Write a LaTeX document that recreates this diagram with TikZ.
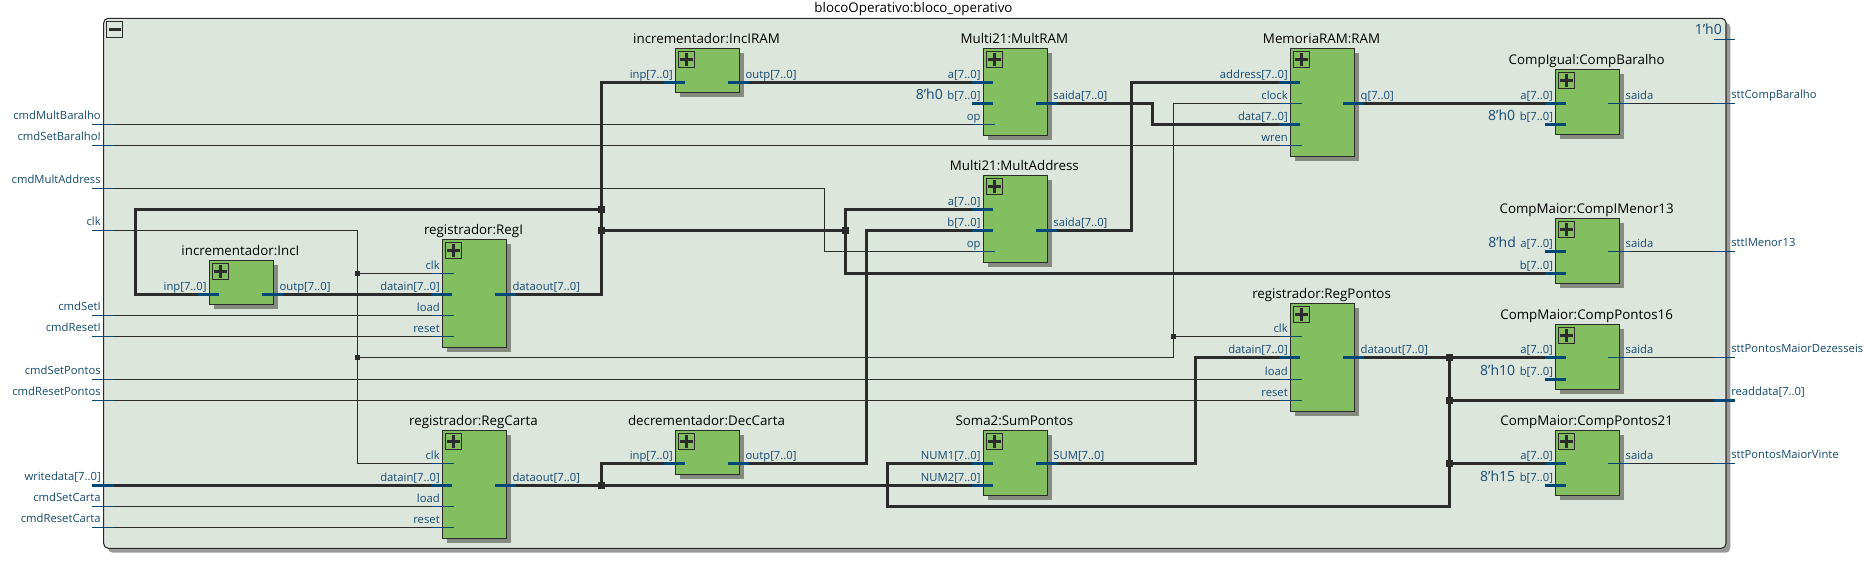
\documentclass[tikz,border=0pt]{standalone}
\usepackage{fontspec}
\setmainfont{Open Sans}
\usetikzlibrary{backgrounds}
\definecolor{framefill}{RGB}{221,230,221}
\definecolor{frameshadow}{RGB}{153,153,153}
\definecolor{blockfill}{RGB}{131,191,96}
\definecolor{blockshadow}{RGB}{134,139,127}
\definecolor{wiredark}{RGB}{43,43,43}
\definecolor{pinblue}{RGB}{0,72,118}
\definecolor{lblblue}{RGB}{22,74,112}
\pgfdeclarelayer{top}
\pgfsetlayers{main,top}
\tikzset{
  x=0.75pt,y=-0.75pt,
  bus/.style={draw=wiredark,line width=2.25pt},
  sig/.style={draw=wiredark,line width=0.75pt},
  stubbus/.style={draw=pinblue,line width=2.25pt},
  stubsig/.style={draw=pinblue,line width=0.75pt},
  blockbox/.style={draw=wiredark,fill=blockfill,line width=0.8pt,inner sep=0,outer sep=0,anchor=north west},
  plusbox/.style={draw=wiredark,fill=blockfill,line width=0.8pt,inner sep=0,outer sep=0,minimum width=12pt,minimum height=12pt},
  titletext/.style={anchor=base,inner sep=0,text=black,font=\fontsize{10pt}{12pt}\selectfont},
  pintext/.style={inner sep=0,text=lblblue,font=\fontsize{8.45pt}{10pt}\selectfont},
  consttext/.style={inner sep=0,anchor=base east,text=lblblue,font=\fontsize{10.5pt}{12pt}\selectfont},
  jbus/.style={fill=wiredark,inner sep=0,outer sep=0,minimum size=5.2pt},
  jsig/.style={fill=wiredark,inner sep=0,outer sep=0,minimum size=3.6pt},
}
% block: name, x0, y0, x1, y1, title
\newcommand\blk[6]{%
  \fill[blockshadow] (#2+4.4,#3+4.4) rectangle (#4+4.4,#5+4.4);
  \node[blockbox,minimum width={(#4-#2)*0.75pt},minimum height={(#5-#3)*0.75pt}] (#1) at (#2,#3) {};
  \node[plusbox] (#1P) at (#2+11.3,#3+11.5) {};
  \draw[draw=wiredark,line width=2.2pt] (#1P.center) ++(-6.5,0) -- ++(13,0);
  \draw[draw=wiredark,line width=2.2pt] (#1P.center) ++(0,-6.5) -- ++(0,13);
  \node[titletext] (#1T) at ({(#2+#4)/2-1},#3-5) {#6};
}
% pins: name, block edge x, y, label
\newcommand\busin[4]{%
  \coordinate (#1) at (#2+10,#3);
  \coordinate (#1S) at (#2-11,#3);
  \begin{pgfonlayer}{top}\draw[stubbus] (#1S) -- (#1);\end{pgfonlayer}
  \node[pintext,anchor=base east] (#1L) at (#2-2.4,#3-3.8) {#4};
}
\newcommand\sigin[4]{%
  \coordinate (#1) at (#2+11.5,#3);
  \coordinate (#1S) at (#2-10.5,#3);
  \begin{pgfonlayer}{top}\draw[stubsig] (#1S) -- (#1);\end{pgfonlayer}
  \node[pintext,anchor=base east] (#1L) at (#2-2.4,#3-3.8) {#4};
}
\newcommand\busout[4]{%
  \coordinate (#1) at (#2-11.6,#3);
  \coordinate (#1S) at (#2+9,#3);
  \begin{pgfonlayer}{top}\draw[stubbus] (#1) -- (#1S);\end{pgfonlayer}
  \node[pintext,anchor=base west] (#1L) at (#2+5.7,#3-3.8) {#4};
}
\newcommand\sigout[4]{%
  \coordinate (#1) at (#2-11.7,#3);
  \coordinate (#1S) at (#2+10.5,#3);
  \begin{pgfonlayer}{top}\draw[stubsig] (#1) -- (#1S);\end{pgfonlayer}
  \node[pintext,anchor=base west] (#1L) at (#2+5.7,#3-3.8) {#4};
}
% frame terminals: name, y, label
\newcommand\extin[4]{%
  \coordinate (#1) at (92.4,#2);
  \coordinate (#1S) at (113.7,#2);
  \begin{pgfonlayer}{top}\draw[#4] (#1) -- (#1S);\end{pgfonlayer}
  \node[pintext,anchor=base east] (#1L) at (101,#2-5) {#3};
}
\newcommand\extout[4]{%
  \coordinate (#1) at (1735.4,#2);
  \coordinate (#1S) at (1714,#2);
  \begin{pgfonlayer}{top}\draw[#4] (#1S) -- (#1);\end{pgfonlayer}
  \node[pintext,anchor=base west] (#1L) at (1731,#2-5) {#3};
}
\begin{document}
\begin{tikzpicture}
\useasboundingbox (0,0) rectangle (1873,561);
% frame
\fill[frameshadow,rounded corners=3.5pt] (108,22.7) rectangle (1730.3,552.7);
\node[inner sep=0,outer sep=0,minimum width=0,minimum height=0] (frameTL) at (103.7,18.3) {};
\draw[draw=wiredark,fill=framefill,line width=0.8pt,rounded corners=3.5pt] (frameTL.center) rectangle (1726,548.3);
\node[draw=wiredark,line width=0.6pt,inner sep=0,outer sep=0,minimum width=12pt,minimum height=11.8pt] (minusbox) at (114.5,29.5) {};
\draw[draw=wiredark,line width=2.2pt] (minusbox.center) ++(-6,0) -- ++(12,0);
\node[titletext] (mainT) at (913.5,12.5) {blocoOperativo:bloco\_operativo};
% blocks
\blk{IncI}{209.3}{260.3}{273.6}{304.3}{incrementador:IncI}
\blk{RegI}{442.4}{239.3}{506.6}{347.3}{registrador:RegI}
\blk{RegCarta}{442.4}{430.3}{506.6}{538.3}{registrador:RegCarta}
\blk{IncIRAM}{675.4}{48.3}{739.7}{92.3}{incrementador:IncIRAM}
\blk{DecCarta}{675.4}{430.3}{739.7}{474.3}{decrementador:DecCarta}
\blk{MultRAM}{983.2}{48.3}{1047.5}{135.3}{Multi21:MultRAM}
\blk{MultAddr}{983.2}{175.3}{1047.5}{262.3}{Multi21:MultAddress}
\blk{SumP}{983.2}{430.3}{1047.5}{495.3}{Soma2:SumPontos}
\blk{RAM}{1290.4}{48.3}{1354.7}{156.3}{MemoriaRAM:RAM}
\blk{RegP}{1290.4}{303.3}{1354.7}{411.3}{registrador:RegPontos}
\blk{CB}{1555.6}{69.3}{1619.7}{134.3}{CompIgual:CompBaralho}
\blk{CM}{1555.6}{218.3}{1619.7}{283.3}{CompMaior:CompIMenor13}
\blk{CPa}{1555.6}{324.3}{1619.7}{389.3}{CompMaior:CompPontos16}
\blk{CPb}{1555.6}{430.3}{1619.7}{495.3}{CompMaior:CompPontos21}
% pins
\busin{IncIi}{209.3}{294.3}{inp[7..0]}
\busout{IncIo}{273.6}{294.3}{outp[7..0]}
\sigin{RIc}{442.4}{273.3}{clk}
\busin{RId}{442.4}{294.3}{datain[7..0]}
\sigin{RIl}{442.4}{315.3}{load}
\sigin{RIr}{442.4}{336.3}{reset}
\busout{RIo}{506.6}{294.3}{dataout[7..0]}
\sigin{RCc}{442.4}{463.3}{clk}
\busin{RCd}{442.4}{485.3}{datain[7..0]}
\sigin{RCl}{442.4}{506.3}{load}
\sigin{RCr}{442.4}{527.3}{reset}
\busout{RCo}{506.6}{485.3}{dataout[7..0]}
\busin{IRi}{675.4}{82.3}{inp[7..0]}
\busout{IRo}{739.7}{82.3}{outp[7..0]}
\busin{DCi}{675.4}{463.3}{inp[7..0]}
\busout{DCo}{739.7}{463.3}{outp[7..0]}
\busin{MRa}{983.2}{82.3}{a[7..0]}
\busin{MRb}{983.2}{103.3}{b[7..0]}
\sigin{MRs}{983.2}{124.3}{op}
\busout{MRo}{1047.5}{103.3}{saida[7..0]}
\busin{MAa}{983.2}{209.3}{a[7..0]}
\busin{MAb}{983.2}{230.3}{b[7..0]}
\sigin{MAs}{983.2}{251.3}{op}
\busout{MAo}{1047.5}{230.3}{saida[7..0]}
\busin{SPa}{983.2}{463.3}{NUM1[7..0]}
\busin{SPb}{983.2}{485.3}{NUM2[7..0]}
\busout{SPo}{1047.5}{463.3}{SUM[7..0]}
\busin{RAMa}{1290.4}{82.3}{address[7..0]}
\sigin{RAMc}{1290.4}{103.3}{clock}
\busin{RAMd}{1290.4}{124.3}{data[7..0]}
\sigin{RAMw}{1290.4}{145.3}{wren}
\busout{RAMq}{1354.7}{103.3}{q[7..0]}
\sigin{RPc}{1290.4}{336.3}{clk}
\busin{RPd}{1290.4}{357.3}{datain[7..0]}
\sigin{RPl}{1290.4}{379.3}{load}
\sigin{RPr}{1290.4}{400.3}{reset}
\busout{RPo}{1354.7}{357.3}{dataout[7..0]}
\busin{CBa}{1555.6}{103.3}{a[7..0]}
\busin{CBb}{1555.6}{124.3}{b[7..0]}
\sigout{CBo}{1619.7}{103.3}{saida}
\busin{CMa}{1555.6}{251.3}{a[7..0]}
\busin{CMb}{1555.6}{273.3}{b[7..0]}
\sigout{CMo}{1619.7}{251.3}{saida}
\busin{CPaa}{1555.6}{357.3}{a[7..0]}
\busin{CPab}{1555.6}{379.3}{b[7..0]}
\sigout{CPao}{1619.7}{357.3}{saida}
\busin{CPba}{1555.6}{463.3}{a[7..0]}
\busin{CPbb}{1555.6}{485.3}{b[7..0]}
\sigout{CPbo}{1619.7}{463.3}{saida}
% constants
\node[consttext] (k1) at ([xshift=-3pt]MRbL.base west) {8'h0};
\node[consttext] (k2) at ([xshift=-3pt]CBbL.base west) {8'h0};
\node[consttext] (k3) at ([xshift=-3pt]CMaL.base west) {8'hd};
\node[consttext] (k4) at ([xshift=-3pt]CPabL.base west) {8'h10};
\node[consttext] (k5) at ([xshift=-3pt]CPbbL.base west) {8'h15};
% frame terminals
\extin{cmdMultBaralho}{124.3}{cmdMultBaralho}{stubsig}
\extin{cmdSetBaralhoI}{145.3}{cmdSetBaralhoI}{stubsig}
\extin{cmdMultAddress}{188.3}{cmdMultAddress}{stubsig}
\extin{clk}{230.3}{clk}{stubsig}
\extin{cmdSetI}{315.3}{cmdSetI}{stubsig}
\extin{cmdResetI}{336.3}{cmdResetI}{stubsig}
\extin{cmdSetPontos}{379.3}{cmdSetPontos}{stubsig}
\extin{cmdResetPontos}{400.3}{cmdResetPontos}{stubsig}
\extin{writedata}{485.3}{writedata[7..0]}{stubbus}
\extin{cmdSetCarta}{506.3}{cmdSetCarta}{stubsig}
\extin{cmdResetCarta}{527.3}{cmdResetCarta}{stubsig}
\extout{sttCB}{103.3}{sttCompBaralho}{stubsig}
\extout{sttIM}{251.3}{sttIMenor13}{stubsig}
\extout{sttD}{357.3}{sttPontosMaiorDezesseis}{stubsig}
\extout{rdata}{400.3}{readdata[7..0]}{stubbus}
\extout{sttV}{463.3}{sttPontosMaiorVinte}{stubsig}
\coordinate (zeroA) at (1714,39.3);
\coordinate (zeroB) at (1735.4,39.3);
\draw[stubsig] (zeroA) -- (zeroB);
\node[consttext] (k0) at (1722,34.3) {1'h0};
% junctions
\node[jbus] (jA) at (601.4,209.3) {};
\node[jbus] (jB) at (601.4,230.3) {};
\node[jbus] (jC) at (845.4,230.3) {};
\node[jbus] (jD) at (601.4,485.3) {};
\node[jbus] (jE) at (1449.5,357.3) {};
\node[jbus] (jF) at (1449.5,400.3) {};
\node[jbus] (jG) at (1449.5,463.3) {};
\node[jsig] (jK) at (357.6,273.3) {};
\node[jsig] (jL) at (357.6,357.3) {};
\node[jsig] (jM) at (1173.2,336.3) {};
% thin wires
\draw[sig] (cmdMultBaralho) -- (MRs);
\draw[sig] (cmdSetBaralhoI) -- (RAMw);
\draw[sig] (cmdMultAddress) -- (824.5,188.3) |- (MAs);
\draw[sig] (clk) -- (357.6,230.3) |- (RCc);
\draw[sig] (jK) -- (RIc);
\draw[sig] (jL) -- (1173.2,357.3) |- (RAMc);
\draw[sig] (jM) -- (RPc);
\draw[sig] (cmdSetI) -- (RIl);
\draw[sig] (cmdResetI) -- (RIr);
\draw[sig] (cmdSetPontos) -- (RPl);
\draw[sig] (cmdResetPontos) -- (RPr);
\draw[sig] (cmdSetCarta) -- (RCl);
\draw[sig] (cmdResetCarta) -- (RCr);
\draw[sig] (CBo) -- (sttCB);
\draw[sig] (CMo) -- (sttIM);
\draw[sig] (CPao) -- (sttD);
\draw[sig] (CPbo) -- (sttV);
% buses
\draw[bus] (IncIi) -- (135.8,294.3) |- (jA);
\draw[bus] (IncIo) -- (RId);
\draw[bus] (RIo) -| (jA.center) |- (IRi);
\draw[bus] (jB) -- (jC);
\draw[bus] (jC.center) |- (MAa);
\draw[bus] (jC.center) |- (CMb);
\draw[bus] (IRo) -- (MRa);
\draw[bus] (MRo) -- (1152.4,103.3) |- (RAMd);
\draw[bus] (MAo) -- (1131.5,230.3) |- (RAMa);
\draw[bus] (RAMq) -- (CBa);
\draw[bus] (writedata) -- (RCd);
\draw[bus] (RCo) -- (SPb);
\draw[bus] (jD.center) |- (DCi);
\draw[bus] (DCo) -- (866.3,463.3) |- (MAb);
\draw[bus] (SPa) -- (887.2,463.3) |- (1449.5,506.3) -- (jE.center);
\draw[bus] (SPo) -- (1195.7,463.3) |- (RPd);
\draw[bus] (RPo) -- (CPaa);
\draw[bus] (jF) -- (rdata);
\draw[bus] (jG) -- (CPba);
\end{tikzpicture}
\end{document}
